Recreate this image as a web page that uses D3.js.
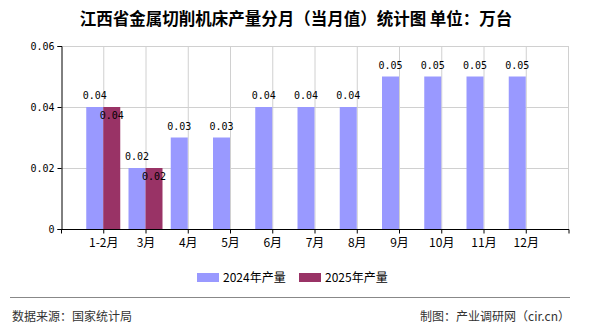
<!DOCTYPE html>
<html><head><meta charset="utf-8">
<script src="https://cdn.jsdelivr.net/npm/d3@7"></script>
<style>body{margin:0;background:#fff}svg{display:block}</style>
</head><body><svg id="c" width="590" height="330"></svg>
<script>
const categories = ["1-2月","3月","4月","5月","6月","7月","8月","9月","10月","11月","12月"];
const values2024 = [0.04,0.02,0.03,0.03,0.04,0.04,0.04,0.05,0.05,0.05,0.05];
const values2025 = [0.04,0.02];
const yTicks = [0,0.02,0.04,0.06];
const yTickLabels = ["0","0.02","0.04","0.06"];
const seriesNames = ["2024年产量","2025年产量"];
const colors = ["#9999FF","#993366"];

const svg = d3.select("#c");
const L=61,R=568,T=46,B=229;
const x = d3.scalePoint().domain(categories).range([L,R]).padding(1);
const y = d3.scaleLinear().domain([0,0.06]).range([B,T]);
const bw = 17;
const mono = "'DejaVu Sans Mono', monospace";
const cjk = "'Noto Sans CJK SC', sans-serif";

svg.append("text").attr("x",296).attr("y",25).attr("text-anchor","middle")
  .attr("font-family",cjk).attr("font-size",16.5).attr("font-weight","bold").attr("fill","#000")
  .text("江西省金属切削机床产量分月（当月值）统计图 单位：万台");

// grid
const g = svg.append("g");
g.selectAll(".hg").data(yTicks.filter(d=>d>0)).enter().append("line")
  .attr("x1",L).attr("x2",R).attr("y1",d=>y(d)+0.5).attr("y2",d=>y(d)+0.5)
  .attr("stroke","#d0d0d0");
g.selectAll(".vg").data(categories).enter().append("line")
  .attr("x1",d=>x(d)+0.5).attr("x2",d=>x(d)+0.5).attr("y1",T).attr("y2",B)
  .attr("stroke","#d0d0d0");
g.append("line").attr("x1",R+0.5).attr("x2",R+0.5).attr("y1",T).attr("y2",B).attr("stroke","#d0d0d0");

// bars
svg.append("g").selectAll("rect").data(values2024).enter().append("rect")
  .attr("x",(d,i)=>x(categories[i])-bw).attr("width",bw)
  .attr("y",d=>y(d)).attr("height",d=>B-y(d)).attr("fill",colors[0]);
svg.append("g").selectAll("rect").data(values2025).enter().append("rect")
  .attr("x",(d,i)=>x(categories[i])).attr("width",bw)
  .attr("y",d=>y(d)).attr("height",d=>B-y(d)).attr("fill",colors[1]);

// labels
svg.append("g").selectAll("text").data(values2024).enter().append("text")
  .attr("x",(d,i)=>x(categories[i])-bw/2).attr("y",d=>y(d)-8)
  .attr("text-anchor","middle").attr("font-family",mono).attr("font-size",10).attr("fill","#000")
  .text(d=>d.toFixed(2));
svg.append("g").selectAll("text").data(values2025).enter().append("text")
  .attr("x",(d,i)=>x(categories[i])+bw/2).attr("y",d=>y(d)+12)
  .attr("text-anchor","middle").attr("font-family",mono).attr("font-size",10).attr("fill","#000")
  .text(d=>d.toFixed(2));

// axes
const yAxis = d3.axisLeft(y).tickValues(yTicks).tickFormat((d,i)=>yTickLabels[i]).tickSizeOuter(0).tickSize(4).tickPadding(3);
const ya = svg.append("g").attr("transform",`translate(${L+0.5},0)`).call(yAxis);
ya.selectAll("text").attr("font-family",mono).attr("font-size",10).attr("fill","#000");
ya.select(".domain").attr("stroke","#000");
ya.selectAll("line").attr("stroke","#000");

const xAxis = d3.axisBottom(x).tickSizeOuter(0).tickSize(4).tickPadding(5);
const xa = svg.append("g").attr("transform",`translate(0,${B+0.5})`).call(xAxis);
xa.selectAll("text").attr("font-family",cjk).attr("font-size",12).attr("fill","#000");
xa.select(".domain").attr("stroke","#000").attr("d",`M${L},0.5V0H${R+1}V4`);
xa.selectAll(".tick line").attr("stroke","#000");
xa.append("line").attr("x1",L+0.5).attr("x2",L+0.5).attr("y1",0).attr("y2",4).attr("stroke","#000");

// legend
const leg = svg.append("g");
const lx = [197,299];
seriesNames.forEach((n,i)=>{
  leg.append("rect").attr("x",lx[i]).attr("y",273).attr("width",22).attr("height",9).attr("fill",colors[i]);
  leg.append("text").attr("x",lx[i]+26).attr("y",282).attr("font-family",cjk).attr("font-size",12).attr("fill","#000").text(n);
});

// footer
svg.append("line").attr("x1",10).attr("x2",570).attr("y1",297.5).attr("y2",297.5).attr("stroke","#888").attr("stroke-width",1);
svg.append("text").attr("x",12).attr("y",321).attr("font-family",cjk).attr("font-size",12).attr("fill","#333").text("数据来源：国家统计局");
svg.append("text").attr("x",570).attr("y",321).attr("text-anchor","end").attr("font-family",cjk).attr("font-size",12).attr("fill","#333").text("制图：产业调研网（cir.cn）");
</script></body></html>
